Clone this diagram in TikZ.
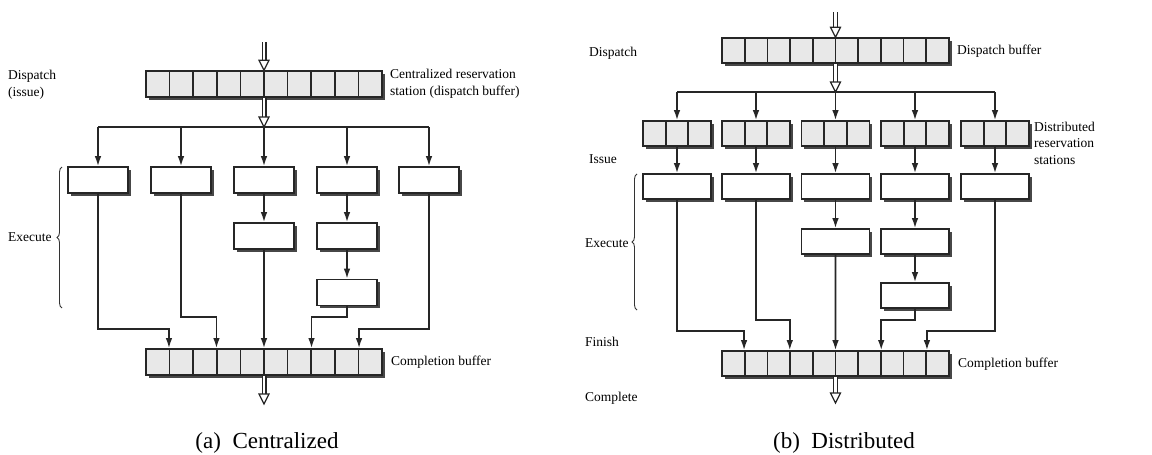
\documentclass[tikz,border=0pt]{standalone}
\usepackage{fontspec}
\setmainfont{Liberation Serif}
\usetikzlibrary{arrows.meta,calc,shadows,decorations.pathreplacing}

\tikzset{
  ink/.style={draw=black!85,line width=1.6pt},
  shade box/.style={drop shadow={shadow xshift=2.6pt,shadow yshift=-2.6pt,fill=black!72,opacity=1}},
  unitbox/.style={ink,fill=white,shade box,inner sep=0pt,minimum height=26pt,minimum width=60pt},
  bufcells/.style={ink,fill=black!9,shade box,inner sep=0pt,minimum height=26pt,
    path picture={\foreach \f in {#1}{
      \draw[ink,line width=1.7pt] ($(path picture bounding box.north west)!\f!(path picture bounding box.north east)$)
        -- ($(path picture bounding box.south west)!\f!(path picture bounding box.south east)$);}}},
  ten cells/.style={bufcells={0.1,0.2,0.3,0.4,0.5,0.6,0.7,0.8,0.9}},
  three cells/.style={bufcells={0.3333,0.6667}},
  wire/.style={draw=black!85,line width=1.6pt},
  arr/.style={wire,-{Latex[length=10pt,width=6.5pt]}},
  dbl/.style={draw=black!85,line width=1.2pt,double=white,double distance=2.6pt},
  hollow/.style={draw=black!85,line width=1.2pt,fill=white,line join=miter},
  bracepath/.style={draw=black!80,line width=0.9pt,decorate,decoration={brace,amplitude=5pt}},
  lbl/.style={font=\fontsize{13.5}{16.5}\selectfont,align=left,inner sep=0pt},
  captext/.style={font=\fontsize{23}{27}\selectfont,inner sep=0pt},
}
% open downward-pointing head whose tip sits at the given point
\newcommand\hollowtip[1]{\draw[hollow] ([xshift=-5pt,yshift=10pt]#1) -- ([xshift=5pt,yshift=10pt]#1) -- (#1) -- cycle;}

\begin{document}
\begin{tikzpicture}[x=1pt,y=-1pt]
\useasboundingbox (0,0) rectangle (1152,455);

% ================= (a) centralized =================
\node[ten cells,minimum width=236pt] (dbA) at (264,84) {};
\node[ten cells,minimum width=236pt] (cbA) at (264,362) {};

\node[unitbox] (fuA1) at (98,180) {};
\node[unitbox] (fuA2) at (181,180) {};
\node[unitbox] (fuA3) at (264,180) {};
\node[unitbox] (fuA4) at (347,180) {};
\node[unitbox] (fuA5) at (429,180) {};
\node[unitbox] (fuA3b) at (264,236) {};
\node[unitbox] (fuA4b) at (347,236) {};
\node[unitbox] (fuA4c) at (347,292.5) {};

\coordinate (inA) at (264,42);
\coordinate (outA) at (264,404);
\coordinate (busA) at (264,127);
\coordinate (busA1) at (98,127);
\coordinate (busA2) at (181,127);
\coordinate (busA4) at (347,127);
\coordinate (busA5) at (429,127);
\foreach \i/\f in {1/0.1,3/0.3,5/0.5,7/0.7,9/0.9}
  \coordinate (cbA\i) at ($(cbA.north west)!\f!(cbA.north east)$);

% instruction flow in and out
\draw[dbl,shorten >=9.5pt] (inA) -- (dbA.north);
\hollowtip{dbA.north}
\draw[dbl,shorten >=9.5pt] (dbA.south) -- (busA);
\hollowtip{busA}
\draw[dbl,shorten >=9.5pt] (cbA.south) -- (outA);
\hollowtip{outA}

% dispatch bus
\draw[wire] (busA1) -- (busA5);
\draw[arr] (busA1) -- (fuA1.north);
\draw[arr] (busA2) -- (fuA2.north);
\draw[arr] (busA) -- (fuA3.north);
\draw[arr] (busA4) -- (fuA4.north);
\draw[arr] (busA5) -- (fuA5.north);

% pipelined units
\draw[arr] (fuA3.south) -- (fuA3b.north);
\draw[arr] (fuA4.south) -- (fuA4b.north);
\draw[arr] (fuA4b.south) -- (fuA4c.north);

% results to completion buffer
\draw[arr] (fuA1.south) |- ([yshift=19pt]cbA1) -- (cbA1);
\draw[arr] (fuA2.south) |- ([yshift=31pt]cbA3) -- (cbA3);
\draw[arr] (fuA3b.south) -- (cbA5);
\draw[arr] (fuA4c.south) |- ([yshift=31pt]cbA7) -- (cbA7);
\draw[arr] (fuA5.south) |- ([yshift=19pt]cbA9) -- (cbA9);

\draw[bracepath] (62,308) -- (62,167);

\node[lbl,anchor=west] (lDispA) at (8,85) {Dispatch\\(issue)};
\node[lbl,anchor=west] (lCrs) at (390,84) {Centralized reservation\\station (dispatch buffer)};
\node[lbl,anchor=west] (lExA) at (8,237) {Execute};
\node[lbl,anchor=west] (lCbA) at (391,362) {Completion buffer};
\node[captext] (capA) at (267,443) {(a)\hspace{0.5em}Centralized};

% ================= (b) distributed =================
\node[ten cells,minimum width=227pt,minimum height=25pt] (dbB) at (835.5,50.5) {};
\node[ten cells,minimum width=227pt,minimum height=25pt] (cbB) at (835.5,363.5) {};

\foreach \i/\x in {1/677,2/756,3/835.5,4/915,5/995}{
  \node[three cells,minimum width=68pt,minimum height=25pt] (rsB\i) at (\x,133.5) {};
  \node[unitbox,minimum width=68pt,minimum height=25pt] (fuB\i) at (\x,186.5) {};
  \coordinate (busB\i) at (\x,92);
}
\node[unitbox,minimum width=68pt,minimum height=25pt] (fuB3b) at (835.5,241.5) {};
\node[unitbox,minimum width=68pt,minimum height=25pt] (fuB4b) at (915,241.5) {};
\node[unitbox,minimum width=68pt,minimum height=25pt] (fuB4c) at (915,295.5) {};

\coordinate (inB) at (835.5,12);
\coordinate (outB) at (835.5,403);
\foreach \i/\f in {1/0.1,3/0.3,5/0.5,7/0.7,9/0.9}
  \coordinate (cbB\i) at ($(cbB.north west)!\f!(cbB.north east)$);

\draw[dbl,shorten >=9.5pt] (inB) -- (dbB.north);
\hollowtip{dbB.north}
\draw[dbl,shorten >=9.5pt] (dbB.south) -- (busB3);
\hollowtip{busB3}
\draw[dbl,shorten >=9.5pt] (cbB.south) -- (outB);
\hollowtip{outB}

\draw[wire] (busB1) -- (busB5);
\foreach \i in {1,...,5}{
  \draw[arr] (busB\i) -- (rsB\i.north);
  \draw[arr] (rsB\i.south) -- (fuB\i.north);
}
\draw[arr] (fuB3.south) -- (fuB3b.north);
\draw[arr] (fuB4.south) -- (fuB4b.north);
\draw[arr] (fuB4b.south) -- (fuB4c.north);

\draw[arr] (fuB1.south) |- ([yshift=19pt]cbB1) -- (cbB1);
\draw[arr] (fuB2.south) |- ([yshift=30pt]cbB3) -- (cbB3);
\draw[arr] (fuB3b.south) -- (cbB5);
\draw[arr] (fuB4c.south) |- ([yshift=30pt]cbB7) -- (cbB7);
\draw[arr] (fuB5.south) |- ([yshift=19pt]cbB9) -- (cbB9);

\draw[bracepath] (637,310) -- (637,174);

\node[lbl,anchor=west] (lDispB) at (589,53) {Dispatch};
\node[lbl,anchor=west] (lDbB) at (957,51) {Dispatch buffer};
\node[lbl,anchor=west] (lRsB) at (1034,143) {Distributed\\reservation\\stations};
\node[lbl,anchor=west] (lIssB) at (589,159) {Issue};
\node[lbl,anchor=west] (lExB) at (585,243) {Execute};
\node[lbl,anchor=west] (lFinB) at (585,342) {Finish};
\node[lbl,anchor=west] (lCplB) at (585,398) {Complete};
\node[lbl,anchor=west] (lCbB) at (958,364) {Completion buffer};
\node[captext] (capB) at (844,443) {(b)\hspace{0.5em}Distributed};
\end{tikzpicture}
\end{document}
